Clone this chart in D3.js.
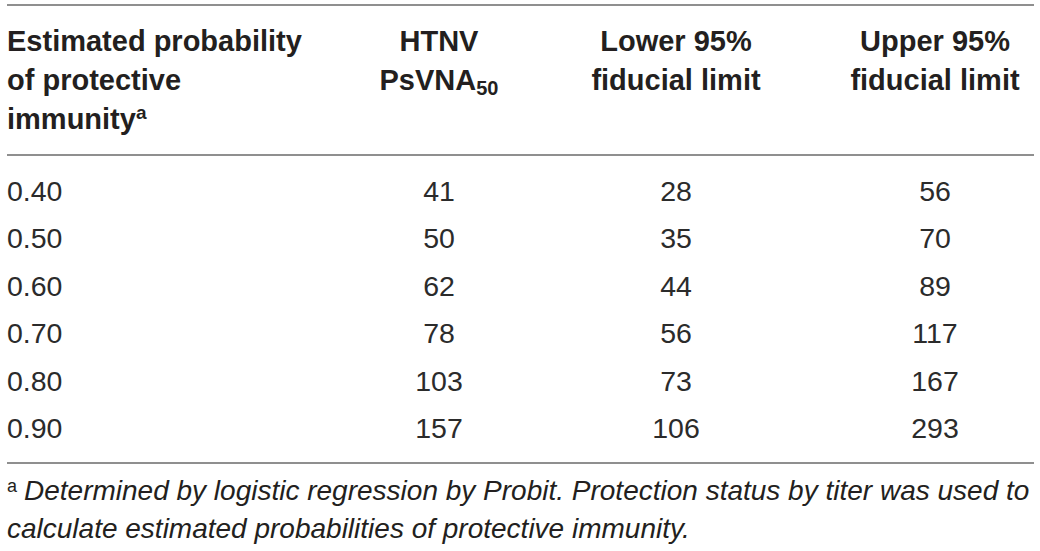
<!DOCTYPE html>
<html>
<head>
<meta charset="utf-8">
<script src="https://cdn.jsdelivr.net/npm/d3@7"></script>
<style>
  html, body { margin: 0; padding: 0; background: #fff; }
  svg { display: block; }
</style>
</head>
<body>
<div class="table"></div>
<script>
// table data
const probability = ["0.40", "0.50", "0.60", "0.70", "0.80", "0.90"];
const htnv = [41, 50, 62, 78, 103, 157];
const lowerLimit = [28, 35, 44, 56, 73, 106];
const upperLimit = [56, 70, 89, 117, 167, 293];
const columns = ["htnv", "lower", "upper"];
const footnote = [
  "Determined by logistic regression by Probit. Protection status by titer was used to",
  "calculate estimated probabilities of protective immunity."
];

const W = 1040, H = 551;
const svg = d3.select(".table")
  .append("svg")
  .attr("width", W)
  .attr("height", H);

const bodyFont = "'Liberation Sans', Arial, sans-serif";
const textColor = "#231f20";
const ruleColor = "#8f8f8f";

//** scales */
const x = d3.scaleOrdinal().domain(columns).range([439, 676, 935]);
const y = d3.scaleLinear().domain([0, probability.length - 1]).range([201, 438]);

//** rules */
const rules = [5, 155, 463];
svg.selectAll("line.rule").data(rules).enter()
  .append("line")
  .attr("class", "rule")
  .attr("x1", 7).attr("x2", 1034)
  .attr("y1", d => d).attr("y2", d => d)
  .attr("stroke", ruleColor)
  .attr("stroke-width", 2);

//** header */
const head = svg.append("g")
  .attr("font-family", bodyFont)
  .attr("font-weight", "bold")
  .attr("font-size", 29)
  .attr("fill", textColor);

head.append("text").attr("x", 7).attr("y", 51).text("Estimated probability");
head.append("text").attr("x", 7).attr("y", 90).text("of protective");
const imm = head.append("text").attr("x", 7).attr("y", 129);
imm.append("tspan").text("immunity");
imm.append("tspan").attr("font-size", 19).attr("dy", -10).text("a");

head.append("text").attr("x", x("htnv")).attr("y", 51).attr("text-anchor", "middle").text("HTNV");
const ps = head.append("text").attr("x", x("htnv")).attr("y", 90).attr("text-anchor", "middle");
ps.append("tspan").text("PsVNA");
ps.append("tspan").attr("font-size", 20).attr("dy", 5).text("50");

head.append("text").attr("x", x("lower")).attr("y", 51).attr("text-anchor", "middle").text("Lower 95%");
head.append("text").attr("x", x("lower")).attr("y", 90).attr("text-anchor", "middle").text("fiducial limit");
head.append("text").attr("x", x("upper")).attr("y", 51).attr("text-anchor", "middle").text("Upper 95%");
head.append("text").attr("x", x("upper")).attr("y", 90).attr("text-anchor", "middle").text("fiducial limit");

//** body rows */
const rows = probability.map((p, i) => ({p: p, htnv: htnv[i], lower: lowerLimit[i], upper: upperLimit[i]}));

const body = svg.append("g")
  .attr("font-family", bodyFont)
  .attr("font-size", 28.5)
  .attr("fill", "#2b2b2b");

const row = body.selectAll("g.row").data(rows).enter()
  .append("g")
  .attr("class", "row")
  .attr("transform", (d, i) => "translate(0," + y(i) + ")");

row.append("text").attr("x", 7).text(d => d.p);
columns.forEach(c => {
  row.append("text")
    .attr("x", x(c))
    .attr("text-anchor", "middle")
    .text(d => d[c]);
});

//** footnote */
const foot = svg.append("g")
  .attr("font-family", bodyFont)
  .attr("font-style", "italic")
  .attr("font-size", 28)
  .attr("fill", textColor);

foot.append("text").attr("x", 7).attr("y", 492).attr("font-size", 18).attr("font-style", "normal").text("a");
foot.append("text").attr("x", 24).attr("y", 500).text(footnote[0]);
foot.append("text").attr("x", 7).attr("y", 538).text(footnote[1]);
</script>
</body>
</html>
